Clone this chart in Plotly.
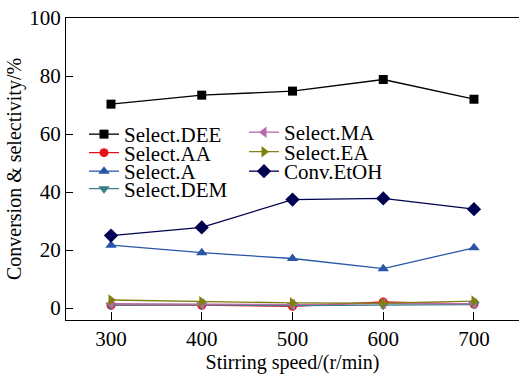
import plotly.graph_objects as go

speed = [300, 400, 500, 600, 700]
sel_dee = [70.3, 73.4, 74.8, 78.8, 72.0]
sel_aa = [1.0, 1.0, 0.6, 2.1, 1.4]
sel_a = [21.7, 19.1, 17.1, 13.6, 20.8]
sel_dem = [1.0, 1.1, 0.9, 1.0, 1.2]
sel_ma = [1.5, 1.4, 1.2, 1.6, 1.5]
sel_ea = [2.8, 2.2, 1.8, 1.7, 2.4]
conv_etoh = [25.0, 27.8, 37.4, 37.8, 34.1]

names = ["Select.DEE", "Select.AA", "Select.A", "Select.DEM",
         "Select.MA", "Select.EA", "Conv.EtOH"]
values = [sel_dee, sel_aa, sel_a, sel_dem, sel_ma, sel_ea, conv_etoh]
colors = ["#000000", "#e8101a", "#2a56a8", "#3a8088", "#b86aaa", "#808010", "#000050"]
symbols = ["square", "circle", "triangle-up", "triangle-down",
           "triangle-left", "triangle-right", "diamond"]
sizes = [9, 9, 10, 10, 10, 10, 11]

# legend placement (pixel) : column left x, row centre y
leg_x = [84, 84, 84, 84, 244, 244, 244]
leg_y = [134.5, 153, 171.5, 189, 132.5, 152, 171.5]

L, T, B = 66, 18, 320
W = 519 - L
H = B - T

fig = go.Figure()
layout_legends = {}
for i, (name, vals, col, sym, sz) in enumerate(zip(names, values, colors, symbols, sizes)):
    key = "legend" if i == 0 else f"legend{i+1}"
    fig.add_trace(go.Scatter(
        x=speed, y=vals, name=name, mode="lines+markers",
        line=dict(color=col, width=1.3),
        marker=dict(symbol=sym, size=sz, color=col),
        legend=key,
    ))
    layout_legends[key] = dict(
        x=(leg_x[i] - L) / W, y=(B - leg_y[i]) / H,
        xanchor="left", yanchor="middle",
        bgcolor="rgba(0,0,0,0)",
        font=dict(family="Liberation Serif", size=21, color="black"),
        itemwidth=30, borderwidth=0,
    )

font = dict(family="Liberation Serif", size=21, color="black")
tfont = dict(family="Liberation Serif", size=20, color="black")
fig.update_layout(
    width=519, height=374,
    margin=dict(l=L, r=0, t=T, b=374 - B),
    paper_bgcolor="white", plot_bgcolor="white",
    font=font,
    xaxis=dict(range=[250.4, 749.6], tickvals=speed, ticks="inside", ticklen=8,
               tickcolor="black", showline=True, linecolor="black", linewidth=1.2,
               mirror=True, showgrid=False, zeroline=False,
               title=dict(text="Stirring speed/(r/min)", font=tfont, standoff=4),
               tickfont=font),
    yaxis=dict(range=[-4.1, 100], tickvals=[0, 20, 40, 60, 80, 100], ticks="inside",
               ticklen=7, tickcolor="black", showline=True, linecolor="black",
               linewidth=1.2, showgrid=False, zeroline=False,
               title=dict(text="Conversion & selectivity/%", font=tfont, standoff=2),
               tickfont=font),
    showlegend=True,
    **layout_legends,
)

fig.write_html("out.html")
